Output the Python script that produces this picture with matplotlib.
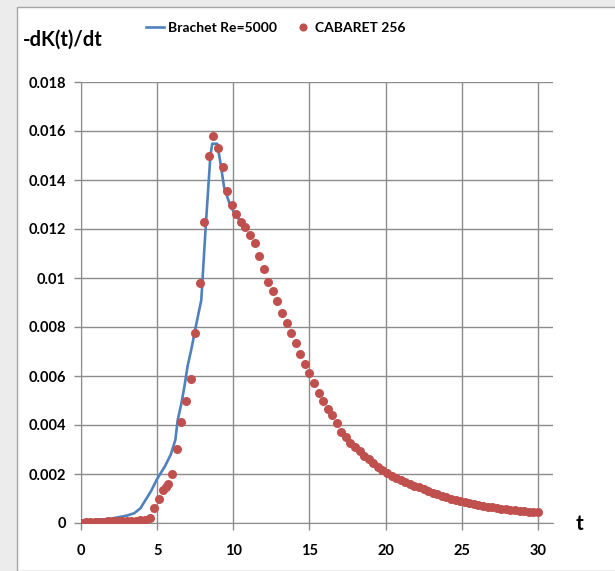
import matplotlib.pyplot as plt
from matplotlib.patches import Rectangle

# Brachet Re=5000 (line)
t_brachet = [0.0, 0.5, 1.0, 1.5, 2.0, 2.5, 3.0, 3.5, 3.9, 4.2, 4.6, 5.0, 5.5, 5.9,
             6.2, 6.35, 6.6, 6.8, 7.0, 7.25, 7.5, 7.9, 8.2, 8.5, 8.62, 8.95, 9.2,
             9.4, 9.75, 10.1, 10.5]
k_brachet = [0.00008, 0.0001, 0.00013, 0.00015, 0.00018, 0.00024, 0.0003, 0.0004,
             0.0006, 0.0009, 0.0013, 0.0018, 0.0023, 0.0028, 0.0034, 0.0042, 0.0049,
             0.0056, 0.0064, 0.0071, 0.0079, 0.0091, 0.0122, 0.0150, 0.01548,
             0.01548, 0.01454, 0.0137, 0.01305, 0.0126, 0.0123]

# CABARET 256 (markers)
t_cab = [0.0, 0.3, 0.6, 0.9, 1.2, 1.5, 1.8, 2.1, 2.4, 2.7, 3.0, 3.3, 3.6, 3.9, 4.2,
         4.5, 4.8, 5.1, 5.4, 5.55, 5.7, 6.0, 6.3, 6.6, 6.9, 7.2, 7.5, 7.8, 8.1, 8.4,
         8.7, 9.0, 9.3, 9.6, 9.9, 10.2, 10.5, 10.8, 11.1, 11.4, 11.7, 12.0, 12.3,
         12.6, 12.9, 13.2, 13.5, 13.8, 14.1, 14.4, 14.7, 15.0, 15.3, 15.6, 15.9,
         16.2, 16.5, 16.8, 17.1, 17.4, 17.7, 18.0, 18.3, 18.6, 18.9, 19.2, 19.5,
         19.8, 20.1, 20.4, 20.7, 21.0, 21.3, 21.6, 21.9, 22.2, 22.5, 22.8, 23.1,
         23.4, 23.7, 24.0, 24.3, 24.6, 24.9, 25.2, 25.5, 25.8, 26.1, 26.4, 26.7,
         27.0, 27.3, 27.6, 27.9, 28.2, 28.5, 28.8, 29.1, 29.4, 29.7, 30.0]
k_cab = [0.00002, 0.00006, 0.00005, 0.00005, 0.00006, 0.00006, 0.00007, 0.00007,
         0.00008, 0.00008, 0.00009, 0.0001, 0.0001, 0.00011, 0.00013, 0.00022,
         0.00062, 0.00097, 0.00133, 0.00145, 0.00158, 0.002, 0.00303, 0.00412,
         0.005, 0.00588, 0.00777, 0.0098, 0.0123, 0.015, 0.0158, 0.01532, 0.01453,
         0.01355, 0.01296, 0.01262, 0.0123, 0.0121, 0.01176, 0.01142, 0.0109,
         0.01036, 0.00985, 0.00947, 0.00907, 0.00858, 0.00818, 0.00777, 0.00736,
         0.00689, 0.00649, 0.00613, 0.0057, 0.00532, 0.00498, 0.00464, 0.00441,
         0.00407, 0.00373, 0.00352, 0.00328, 0.0031, 0.00293, 0.00275, 0.0026,
         0.00245, 0.0023, 0.00215, 0.00203, 0.00193, 0.00185, 0.00177, 0.00168,
         0.0016, 0.00152, 0.00145, 0.00137, 0.0013, 0.00124, 0.00118, 0.00112,
         0.00106, 0.001, 0.00094, 0.00088, 0.00084, 0.0008, 0.00077, 0.00073,
         0.0007, 0.00067, 0.00064, 0.00061, 0.00058, 0.00056, 0.00054, 0.00052,
         0.0005, 0.00048, 0.00046, 0.00044, 0.00043]

x_ticks = [0, 5, 10, 15, 20, 25, 30]
y_ticks = [0, 0.002, 0.004, 0.006, 0.008, 0.01, 0.012, 0.014, 0.016, 0.018]
y_labels = ["0", "0.002", "0.004", "0.006", "0.008", "0.01", "0.012", "0.014", "0.016", "0.018"]

plt.rcParams['font.family'] = ['Lato', 'DejaVu Sans']
plt.rcParams['font.weight'] = 'bold'

fig = plt.figure(figsize=(6.15, 5.71), dpi=100)
fig.patch.set_facecolor('#ececec')
frame = Rectangle((17/615, 0), 1.0, (571-7)/571, transform=fig.transFigure,
                  facecolor='white', edgecolor='#a6a6a6', linewidth=1.0, zorder=-10)
fig.patches.append(frame)

ax = fig.add_axes([81/615, 48/571, 472/615, 441/571])
ax.set_facecolor('white')
ax.set_zorder(1)

ax.plot(t_brachet, k_brachet, color='#4f81bd', lw=1.9, label='Brachet Re=5000', zorder=3)
ax.plot(t_cab, k_cab, 'o', color='#c0504d', ms=6.5, mec='none', label='CABARET 256', zorder=4)

ax.set_xlim(0, 31)
ax.set_ylim(0, 0.018)
ax.set_xticks(x_ticks)
ax.set_yticks(y_ticks)
ax.set_yticklabels(y_labels)
ax.grid(True, color='#8c8c8c', lw=1.0)
ax.set_axisbelow(True)
for s in ['top', 'right']:
    ax.spines[s].set_visible(False)
for s in ['left', 'bottom']:
    ax.spines[s].set_color('#8c8c8c')
ax.tick_params(colors='#8c8c8c', labelcolor='black', length=5, width=1, labelsize=10.5)
ax.tick_params(axis='x', pad=10)
ax.tick_params(axis='y', pad=6)

fig.text(23/615, 1-40/571, '-dK(t)/dt', fontsize=14.5, fontweight='bold', va='center', ha='left')
fig.text(580/615, 1-524/571, 't', fontsize=15, fontweight='bold', va='center', ha='center')

leg = fig.legend(loc='center', bbox_to_anchor=(276/615, 1-28/571), ncol=2, frameon=False,
                 fontsize=10, handlelength=1.3, handletextpad=0.25, columnspacing=1.2,
                 markerscale=0.9)

fig.savefig('out.png', dpi=100, facecolor=fig.get_facecolor())
